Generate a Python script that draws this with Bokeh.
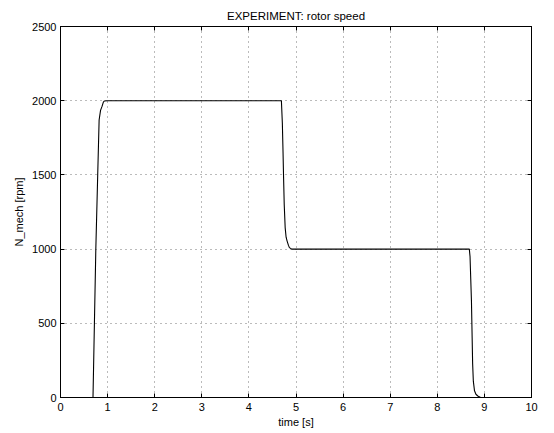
from bokeh.plotting import figure
from bokeh.models import Range1d, FixedTicker, LinearAxis, Title
from bokeh.embed import file_html
from bokeh.resources import INLINE

# data
time_s = [0.0, 0.69, 0.72, 0.75, 0.79, 0.82, 0.85, 0.88, 0.91, 0.93, 1.0, 2.0, 3.0, 4.0,
          4.69, 4.71, 4.725, 4.735, 4.75, 4.77, 4.79, 4.81, 4.84, 4.86, 4.91, 5.5, 6.5, 7.5,
          8.68, 8.695, 8.71, 8.725, 8.74, 8.75, 8.765, 8.79, 8.82, 8.86, 8.92, 9.5, 10.0]
speed_rpm = [0, 0, 500, 1000, 1500, 1870, 1935, 1960, 1990, 1998, 2000, 2000, 2000, 2000,
             2000, 1850, 1650, 1500, 1300, 1145, 1080, 1056, 1025, 1010, 1000, 1000, 1000, 1000,
             1000, 950, 800, 650, 400, 230, 110, 45, 22, 10, 0, 0, 0]
x_ticks = [0, 1, 2, 3, 4, 5, 6, 7, 8, 9, 10]
y_ticks = [0, 500, 1000, 1500, 2000, 2500]

FONT = "Liberation Sans"

p = figure(width=546, height=430, output_backend="svg", toolbar_location=None,
           x_range=Range1d(0, 10), y_range=Range1d(0, 2500),
           min_border_left=60, min_border_right=15, min_border_top=26, min_border_bottom=33)
p.title = Title(text="EXPERIMENT: rotor speed", align="center", text_font=FONT,
                text_font_size="11.5px", text_font_style="normal", text_color="black",
                standoff=9)
p.background_fill_color = "white"
p.border_fill_color = "white"
p.outline_line_color = "black"
p.outline_line_width = 1

p.line(time_s, speed_rpm, line_color="black", line_width=1.1)

for ax in (p.xaxis[0], p.yaxis[0]):
    ax.major_tick_in = 4
    ax.major_tick_out = 0
    ax.minor_tick_line_color = None
    ax.axis_line_color = "black"
    ax.major_tick_line_color = "black"
    ax.major_label_text_font = FONT
    ax.major_label_text_font_size = "11px"
    ax.major_label_text_color = "black"
    ax.axis_label_text_font = FONT
    ax.axis_label_text_font_size = "11px"
    ax.axis_label_text_font_style = "normal"
    ax.axis_label_text_color = "black"

p.xaxis[0].ticker = FixedTicker(ticks=x_ticks)
p.yaxis[0].ticker = FixedTicker(ticks=y_ticks)
p.xaxis[0].axis_label = "time [s]"
p.yaxis[0].axis_label = "N_mech [rpm]"
p.xaxis[0].major_label_standoff = 5
p.xaxis[0].axis_label_standoff = 2
p.yaxis[0].major_label_standoff = 4
p.yaxis[0].axis_label_standoff = 4

top = LinearAxis(ticker=FixedTicker(ticks=x_ticks), major_label_text_font_size="0px",
                 major_label_text_color=None,
                 major_tick_in=4, major_tick_out=0, minor_tick_line_color=None,
                 axis_line_color="black", major_label_standoff=0)
right = LinearAxis(ticker=FixedTicker(ticks=y_ticks), major_label_text_font_size="0px",
                   major_label_text_color=None,
                   major_tick_in=4, major_tick_out=0, minor_tick_line_color=None,
                   axis_line_color="black", major_label_standoff=0)
p.add_layout(top, "above")
p.add_layout(right, "right")

p.xgrid.ticker = FixedTicker(ticks=x_ticks)
p.ygrid.ticker = FixedTicker(ticks=y_ticks)
for g in (p.xgrid[0], p.ygrid[0]):
    g.grid_line_color = "#777777"
    g.grid_line_dash = "1 4"
    g.grid_line_width = 1

open("out.html", "w").write(file_html(p, INLINE))
